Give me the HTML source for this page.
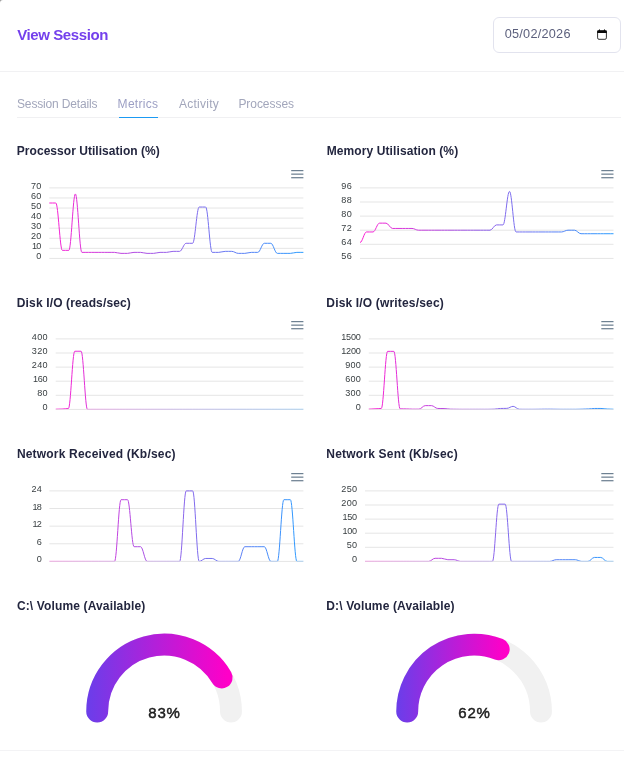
<!DOCTYPE html>
<html lang="en"><head><meta charset="utf-8"><title>View Session</title>
<style>
*{margin:0;padding:0;box-sizing:border-box}
html,body{width:624px;height:767px;overflow:hidden}
body{background:#9a9a9a;font-family:"Liberation Sans",sans-serif;position:relative}
#card{position:absolute;left:0;top:0;width:624px;height:767px;background:#fff;border-top-left-radius:3px}
#wrap{position:absolute;left:0;top:0;width:624px;height:767px;will-change:transform}
.abs{position:absolute;white-space:nowrap}
.h1{left:17.2px;top:25px;font-size:15px;font-weight:bold;color:#7440ec;line-height:20px;letter-spacing:-0.4px}
.hline{position:absolute;left:0;width:624px;height:1px;background:#f1f1f3}
.date{position:absolute;left:493px;top:17px;width:128px;height:35.5px;border:1px solid #e2e3ee;border-radius:6px;background:#fff}
.date span{position:absolute;left:10.7px;letter-spacing:0.25px;top:7.6px;font-size:12.7px;line-height:17px;color:#5b5f7c}
.tab{font-size:12px;line-height:16px;color:#a2a6bb;top:95.5px}
.tab.act{color:#9c9fc4}
.title{font-size:12px;font-weight:bold;color:#23263f;line-height:16px}
svg{position:absolute;left:0;top:0}
.yl{font-size:9.1px;fill:#3a4043;text-anchor:end;font-family:"Liberation Sans",sans-serif}
.gv{font-size:15px;letter-spacing:0.75px;fill:#1c1c1c;stroke:#1c1c1c;stroke-width:0.45px;text-anchor:middle;font-family:"Liberation Sans",sans-serif}
</style></head><body><div id="card"><div id="wrap">
<div class="abs h1">View Session</div>
<div class="date"><span>05/02/2026</span></div>
<div class="hline" style="top:71px"></div>
<div class="abs tab" style="left:17.0px;letter-spacing:-0.15px">Session Details</div>
<div class="abs tab act" style="left:117.6px;letter-spacing:0.3px">Metrics</div>
<div class="abs tab" style="left:178.9px;letter-spacing:0.27px">Activity</div>
<div class="abs tab" style="left:238.4px;letter-spacing:-0.05px">Processes</div>
<div class="hline" style="top:117px;left:17px;width:604px;background:#f0f0f2"></div>
<div class="abs" style="left:119px;top:116.75px;width:39px;height:1.35px;background:#1b9af3"></div>
<div class="abs title" style="left:16.8px;top:143.2px;letter-spacing:0.04px">Processor Utilisation (%)</div>
<div class="abs title" style="left:326.7px;top:143.2px;letter-spacing:0.1px">Memory Utilisation (%)</div>
<div class="abs title" style="left:16.8px;top:295.0px;letter-spacing:0.14px">Disk I/O (reads/sec)</div>
<div class="abs title" style="left:326.3px;top:295.0px;letter-spacing:0.17px">Disk I/O (writes/sec)</div>
<div class="abs title" style="left:16.9px;top:446.2px;letter-spacing:0.19px">Network Received (Kb/sec)</div>
<div class="abs title" style="left:326.3px;top:446.2px;letter-spacing:0.2px">Network Sent (Kb/sec)</div>
<div class="abs title" style="left:16.9px;top:598.0px;letter-spacing:0.14px">C:\ Volume (Available)</div>
<div class="abs title" style="left:326.3px;top:598.0px;letter-spacing:0.14px">D:\ Volume (Available)</div>
<div class="hline" style="top:750px;background:#f3f3f5"></div>
<svg width="624" height="767" viewBox="0 0 624 767">
<defs>
<linearGradient id="gc1" gradientUnits="userSpaceOnUse" x1="49.3" y1="0" x2="303.4" y2="0"><stop offset="0" stop-color="#fb1fd2"/><stop offset="0.5" stop-color="#8f62ea"/><stop offset="1" stop-color="#2a9cff"/></linearGradient>
<clipPath id="kc1"><rect x="48.3" y="185.9" width="256.09999999999997" height="72.43"/></clipPath>
<linearGradient id="gc2" gradientUnits="userSpaceOnUse" x1="360" y1="0" x2="613.5" y2="0"><stop offset="0" stop-color="#fb1fd2"/><stop offset="0.5" stop-color="#8f62ea"/><stop offset="1" stop-color="#2a9cff"/></linearGradient>
<clipPath id="kc2"><rect x="359" y="185.9" width="255.5" height="72.43"/></clipPath>
<linearGradient id="gc3" gradientUnits="userSpaceOnUse" x1="55.7" y1="0" x2="303.4" y2="0"><stop offset="0" stop-color="#fb1fd2"/><stop offset="0.5" stop-color="#8f62ea"/><stop offset="1" stop-color="#2a9cff"/></linearGradient>
<clipPath id="kc3"><rect x="54.7" y="336.9" width="249.7" height="72.43"/></clipPath>
<linearGradient id="gc4" gradientUnits="userSpaceOnUse" x1="368.75" y1="0" x2="613.5" y2="0"><stop offset="0" stop-color="#fb1fd2"/><stop offset="0.5" stop-color="#8f62ea"/><stop offset="1" stop-color="#2a9cff"/></linearGradient>
<clipPath id="kc4"><rect x="367.75" y="336.9" width="246.75" height="72.43"/></clipPath>
<linearGradient id="gc5" gradientUnits="userSpaceOnUse" x1="49.4" y1="0" x2="303.4" y2="0"><stop offset="0" stop-color="#fb1fd2"/><stop offset="0.5" stop-color="#8f62ea"/><stop offset="1" stop-color="#2a9cff"/></linearGradient>
<clipPath id="kc5"><rect x="48.4" y="488.9" width="255.99999999999997" height="72.43"/></clipPath>
<linearGradient id="gc6" gradientUnits="userSpaceOnUse" x1="365" y1="0" x2="613.5" y2="0"><stop offset="0" stop-color="#fb1fd2"/><stop offset="0.5" stop-color="#8f62ea"/><stop offset="1" stop-color="#2a9cff"/></linearGradient>
<clipPath id="kc6"><rect x="364" y="488.9" width="250.5" height="72.43"/></clipPath>
</defs>
<line x1="49.3" x2="303.4" y1="187.90" y2="187.90" stroke="#e5e5e5" stroke-width="1"/>
<text class="yl" x="41.54" y="188.90" letter-spacing="0.24">70</text>
<line x1="49.3" x2="303.4" y1="197.97" y2="197.97" stroke="#e5e5e5" stroke-width="1"/>
<text class="yl" x="41.54" y="198.97" letter-spacing="0.24">60</text>
<line x1="49.3" x2="303.4" y1="208.04" y2="208.04" stroke="#e5e5e5" stroke-width="1"/>
<text class="yl" x="41.54" y="209.04" letter-spacing="0.24">50</text>
<line x1="49.3" x2="303.4" y1="218.11" y2="218.11" stroke="#e5e5e5" stroke-width="1"/>
<text class="yl" x="41.54" y="219.11" letter-spacing="0.24">40</text>
<line x1="49.3" x2="303.4" y1="228.19" y2="228.19" stroke="#e5e5e5" stroke-width="1"/>
<text class="yl" x="41.54" y="229.19" letter-spacing="0.24">30</text>
<line x1="49.3" x2="303.4" y1="238.26" y2="238.26" stroke="#e5e5e5" stroke-width="1"/>
<text class="yl" x="41.54" y="239.26" letter-spacing="0.24">20</text>
<line x1="49.3" x2="303.4" y1="248.33" y2="248.33" stroke="#e5e5e5" stroke-width="1"/>
<text class="yl" x="40.59" y="249.33" letter-spacing="-0.71">10</text>
<line x1="49.3" x2="303.4" y1="258.40" y2="258.40" stroke="#e5e5e5" stroke-width="1"/>
<text class="yl" x="41.54" y="259.40" letter-spacing="0.24">0</text>
<path d="M49.30,203.01C51.71,203.01 53.40,203.01 55.82,203.01C58.23,203.01 59.92,250.34 62.33,250.34C64.74,250.34 66.43,250.34 68.85,250.34C71.26,250.34 72.95,193.94 75.36,193.94C77.77,193.94 79.46,252.36 81.88,252.36C84.29,252.36 85.98,252.36 88.39,252.36C90.81,252.36 92.49,252.36 94.91,252.36C97.32,252.36 99.01,252.36 101.42,252.36C103.84,252.36 105.53,252.36 107.94,252.36C110.35,252.36 112.04,252.36 114.45,252.36C116.87,252.36 118.56,253.36 120.97,253.36C123.38,253.36 125.07,253.36 127.48,253.36C129.90,253.36 131.59,252.36 134.00,252.36C136.41,252.36 138.10,252.36 140.52,252.36C142.93,252.36 144.62,253.36 147.03,253.36C149.44,253.36 151.13,253.36 153.55,253.36C155.96,253.36 157.65,252.36 160.06,252.36C162.47,252.36 164.16,252.36 166.58,252.36C168.99,252.36 170.68,251.35 173.09,251.35C175.51,251.35 177.19,251.35 179.61,251.35C182.02,251.35 183.71,243.29 186.12,243.29C188.54,243.29 190.23,243.29 192.64,243.29C195.05,243.29 196.74,207.04 199.15,207.04C201.57,207.04 203.26,207.04 205.67,207.04C208.08,207.04 209.77,252.36 212.18,252.36C214.60,252.36 216.29,252.36 218.70,252.36C221.11,252.36 222.80,251.35 225.22,251.35C227.63,251.35 229.32,251.35 231.73,251.35C234.14,251.35 235.83,253.36 238.25,253.36C240.66,253.36 242.35,253.36 244.76,253.36C247.17,253.36 248.86,252.36 251.28,252.36C253.69,252.36 255.38,252.36 257.79,252.36C260.21,252.36 261.89,243.29 264.31,243.29C266.72,243.29 268.41,243.29 270.82,243.29C273.24,243.29 274.93,253.36 277.34,253.36C279.75,253.36 281.44,253.36 283.85,253.36C286.27,253.36 287.96,253.36 290.37,253.36C292.78,253.36 294.47,252.36 296.88,252.36C299.30,252.36 300.99,252.36 303.40,252.36" fill="none" stroke="url(#gc1)" stroke-width="1" clip-path="url(#kc1)"/>
<line x1="291.2" x2="303.4" y1="170.60" y2="170.60" stroke="#6e8192" stroke-width="1.25"/>
<line x1="291.2" x2="303.4" y1="174.15" y2="174.15" stroke="#6e8192" stroke-width="1.25"/>
<line x1="291.2" x2="303.4" y1="177.70" y2="177.70" stroke="#6e8192" stroke-width="1.25"/>
<line x1="360" x2="613.5" y1="187.90" y2="187.90" stroke="#e5e5e5" stroke-width="1"/>
<text class="yl" x="351.94" y="188.90" letter-spacing="0.24">96</text>
<line x1="360" x2="613.5" y1="202.00" y2="202.00" stroke="#e5e5e5" stroke-width="1"/>
<text class="yl" x="351.94" y="203.00" letter-spacing="0.24">88</text>
<line x1="360" x2="613.5" y1="216.10" y2="216.10" stroke="#e5e5e5" stroke-width="1"/>
<text class="yl" x="351.94" y="217.10" letter-spacing="0.24">80</text>
<line x1="360" x2="613.5" y1="230.20" y2="230.20" stroke="#e5e5e5" stroke-width="1"/>
<text class="yl" x="351.94" y="231.20" letter-spacing="0.24">72</text>
<line x1="360" x2="613.5" y1="244.30" y2="244.30" stroke="#e5e5e5" stroke-width="1"/>
<text class="yl" x="351.94" y="245.30" letter-spacing="0.24">64</text>
<line x1="360" x2="613.5" y1="258.40" y2="258.40" stroke="#e5e5e5" stroke-width="1"/>
<text class="yl" x="351.94" y="259.40" letter-spacing="0.24">56</text>
<path d="M360.00,242.54C362.41,242.54 364.09,231.96 366.50,231.96C368.91,231.96 370.59,231.96 373.00,231.96C375.41,231.96 377.09,223.15 379.50,223.15C381.91,223.15 383.59,223.15 386.00,223.15C388.41,223.15 390.09,228.44 392.50,228.44C394.91,228.44 396.59,228.44 399.00,228.44C401.41,228.44 403.09,228.44 405.50,228.44C407.91,228.44 409.59,228.44 412.00,228.44C414.41,228.44 416.09,230.20 418.50,230.20C420.91,230.20 422.59,230.20 425.00,230.20C427.41,230.20 429.09,230.20 431.50,230.20C433.91,230.20 435.59,230.20 438.00,230.20C440.41,230.20 442.09,230.20 444.50,230.20C446.91,230.20 448.59,230.20 451.00,230.20C453.41,230.20 455.09,230.20 457.50,230.20C459.91,230.20 461.59,230.20 464.00,230.20C466.41,230.20 468.09,230.20 470.50,230.20C472.91,230.20 474.59,230.20 477.00,230.20C479.41,230.20 481.09,230.20 483.50,230.20C485.91,230.20 487.59,230.20 490.00,230.20C492.41,230.20 494.09,224.91 496.50,224.91C498.91,224.91 500.59,224.91 503.00,224.91C505.41,224.91 507.09,191.42 509.50,191.42C511.91,191.42 513.59,231.96 516.00,231.96C518.41,231.96 520.09,231.96 522.50,231.96C524.91,231.96 526.59,231.96 529.00,231.96C531.41,231.96 533.09,231.96 535.50,231.96C537.91,231.96 539.59,231.96 542.00,231.96C544.41,231.96 546.09,231.96 548.50,231.96C550.91,231.96 552.59,231.96 555.00,231.96C557.41,231.96 559.09,231.96 561.50,231.96C563.91,231.96 565.59,230.20 568.00,230.20C570.41,230.20 572.09,230.20 574.50,230.20C576.91,230.20 578.59,233.72 581.00,233.72C583.41,233.72 585.09,233.72 587.50,233.72C589.91,233.72 591.59,233.72 594.00,233.72C596.41,233.72 598.09,233.72 600.50,233.72C602.91,233.72 604.59,233.72 607.00,233.72C609.41,233.72 611.09,233.72 613.50,233.72" fill="none" stroke="url(#gc2)" stroke-width="1" clip-path="url(#kc2)"/>
<line x1="601.3" x2="613.5" y1="170.60" y2="170.60" stroke="#6e8192" stroke-width="1.25"/>
<line x1="601.3" x2="613.5" y1="174.15" y2="174.15" stroke="#6e8192" stroke-width="1.25"/>
<line x1="601.3" x2="613.5" y1="177.70" y2="177.70" stroke="#6e8192" stroke-width="1.25"/>
<line x1="55.7" x2="303.4" y1="338.90" y2="338.90" stroke="#e5e5e5" stroke-width="1"/>
<text class="yl" x="47.74" y="339.90" letter-spacing="0.24">400</text>
<line x1="55.7" x2="303.4" y1="353.00" y2="353.00" stroke="#e5e5e5" stroke-width="1"/>
<text class="yl" x="47.74" y="354.00" letter-spacing="0.24">320</text>
<line x1="55.7" x2="303.4" y1="367.10" y2="367.10" stroke="#e5e5e5" stroke-width="1"/>
<text class="yl" x="47.74" y="368.10" letter-spacing="0.24">240</text>
<line x1="55.7" x2="303.4" y1="381.20" y2="381.20" stroke="#e5e5e5" stroke-width="1"/>
<text class="yl" x="47.11" y="382.20" letter-spacing="-0.39">160</text>
<line x1="55.7" x2="303.4" y1="395.30" y2="395.30" stroke="#e5e5e5" stroke-width="1"/>
<text class="yl" x="47.74" y="396.30" letter-spacing="0.24">80</text>
<line x1="55.7" x2="303.4" y1="409.40" y2="409.40" stroke="#e5e5e5" stroke-width="1"/>
<text class="yl" x="47.74" y="410.40" letter-spacing="0.24">0</text>
<path d="M55.70,409.22C58.05,409.22 59.70,409.05 62.05,409.05C64.40,409.05 66.05,408.52 68.40,408.52C70.75,408.52 72.40,351.24 74.75,351.24C77.11,351.24 78.75,351.24 81.11,351.24C83.46,351.24 85.10,409.40 87.46,409.40C89.81,409.40 91.46,409.40 93.81,409.40C96.16,409.40 97.81,409.40 100.16,409.40C102.51,409.40 104.16,409.40 106.51,409.40C108.86,409.40 110.51,409.40 112.86,409.40C115.21,409.40 116.86,409.40 119.21,409.40C121.57,409.40 123.21,409.40 125.56,409.40C127.92,409.40 129.56,409.40 131.92,409.40C134.27,409.40 135.91,409.40 138.27,409.40C140.62,409.40 142.27,409.40 144.62,409.40C146.97,409.40 148.62,409.40 150.97,409.40C153.32,409.40 154.97,409.40 157.32,409.40C159.67,409.40 161.32,409.40 163.67,409.40C166.02,409.40 167.67,409.40 170.02,409.40C172.38,409.40 174.02,409.40 176.37,409.40C178.73,409.40 180.37,409.40 182.73,409.40C185.08,409.40 186.72,409.40 189.08,409.40C191.43,409.40 193.08,409.40 195.43,409.40C197.78,409.40 199.43,409.40 201.78,409.40C204.13,409.40 205.78,409.40 208.13,409.40C210.48,409.40 212.13,409.40 214.48,409.40C216.83,409.40 218.48,409.40 220.83,409.40C223.19,409.40 224.83,409.40 227.18,409.40C229.54,409.40 231.18,409.40 233.54,409.40C235.89,409.40 237.53,409.40 239.89,409.40C242.24,409.40 243.89,409.40 246.24,409.40C248.59,409.40 250.24,409.40 252.59,409.40C254.94,409.40 256.59,409.40 258.94,409.40C261.29,409.40 262.94,409.40 265.29,409.40C267.64,409.40 269.29,409.40 271.64,409.40C274.00,409.40 275.64,409.40 277.99,409.40C280.35,409.40 281.99,409.40 284.35,409.40C286.70,409.40 288.35,409.40 290.70,409.40C293.05,409.40 294.70,409.40 297.05,409.40C299.40,409.40 301.05,409.40 303.40,409.40" fill="none" stroke="url(#gc3)" stroke-width="1" clip-path="url(#kc3)"/>
<line x1="291.2" x2="303.4" y1="321.60" y2="321.60" stroke="#6e8192" stroke-width="1.25"/>
<line x1="291.2" x2="303.4" y1="325.15" y2="325.15" stroke="#6e8192" stroke-width="1.25"/>
<line x1="291.2" x2="303.4" y1="328.70" y2="328.70" stroke="#6e8192" stroke-width="1.25"/>
<line x1="368.75" x2="613.5" y1="338.90" y2="338.90" stroke="#e5e5e5" stroke-width="1"/>
<text class="yl" x="360.56" y="339.90" letter-spacing="-0.24">1500</text>
<line x1="368.75" x2="613.5" y1="353.00" y2="353.00" stroke="#e5e5e5" stroke-width="1"/>
<text class="yl" x="360.56" y="354.00" letter-spacing="-0.24">1200</text>
<line x1="368.75" x2="613.5" y1="367.10" y2="367.10" stroke="#e5e5e5" stroke-width="1"/>
<text class="yl" x="361.04" y="368.10" letter-spacing="0.24">900</text>
<line x1="368.75" x2="613.5" y1="381.20" y2="381.20" stroke="#e5e5e5" stroke-width="1"/>
<text class="yl" x="361.04" y="382.20" letter-spacing="0.24">600</text>
<line x1="368.75" x2="613.5" y1="395.30" y2="395.30" stroke="#e5e5e5" stroke-width="1"/>
<text class="yl" x="361.04" y="396.30" letter-spacing="0.24">300</text>
<line x1="368.75" x2="613.5" y1="409.40" y2="409.40" stroke="#e5e5e5" stroke-width="1"/>
<text class="yl" x="361.04" y="410.40" letter-spacing="0.24">0</text>
<path d="M368.75,409.16C371.07,409.16 372.70,408.84 375.03,408.84C377.35,408.84 378.98,408.46 381.30,408.46C383.63,408.46 385.25,351.35 387.58,351.35C389.90,351.35 391.53,351.35 393.85,351.35C396.18,351.35 397.80,408.84 400.13,408.84C402.45,408.84 404.08,408.93 406.40,408.93C408.73,408.93 410.36,409.16 412.68,409.16C415.00,409.16 416.63,409.16 418.96,409.16C421.28,409.16 422.91,405.64 425.23,405.64C427.56,405.64 429.18,405.64 431.51,405.64C433.83,405.64 435.46,408.46 437.78,408.46C440.11,408.46 441.73,408.55 444.06,408.55C446.38,408.55 448.01,409.16 450.33,409.16C452.66,409.16 454.28,409.26 456.61,409.26C458.93,409.26 460.56,409.31 462.88,409.31C465.21,409.31 466.84,409.31 469.16,409.31C471.48,409.31 473.11,409.31 475.44,409.31C477.76,409.31 479.39,409.31 481.71,409.31C484.04,409.31 485.66,409.31 487.99,409.31C490.31,409.31 491.94,409.16 494.26,409.16C496.59,409.16 498.21,408.46 500.54,408.46C502.86,408.46 504.49,408.37 506.81,408.37C509.14,408.37 510.77,406.34 513.09,406.34C515.41,406.34 517.04,409.26 519.37,409.26C521.69,409.26 523.32,409.31 525.64,409.31C527.97,409.31 529.59,409.31 531.92,409.31C534.24,409.31 535.87,409.26 538.19,409.26C540.52,409.26 542.14,409.16 544.47,409.16C546.79,409.16 548.42,409.16 550.74,409.16C553.07,409.16 554.69,409.26 557.02,409.26C559.34,409.26 560.97,409.31 563.29,409.31C565.62,409.31 567.25,409.31 569.57,409.31C571.89,409.31 573.52,409.31 575.85,409.31C578.17,409.31 579.80,409.16 582.12,409.16C584.45,409.16 586.07,408.93 588.40,408.93C590.72,408.93 592.35,408.46 594.67,408.46C597.00,408.46 598.62,408.46 600.95,408.46C603.27,408.46 604.90,409.02 607.22,409.02C609.55,409.02 611.18,409.26 613.50,409.26" fill="none" stroke="url(#gc4)" stroke-width="1" clip-path="url(#kc4)"/>
<line x1="601.3" x2="613.5" y1="321.60" y2="321.60" stroke="#6e8192" stroke-width="1.25"/>
<line x1="601.3" x2="613.5" y1="325.15" y2="325.15" stroke="#6e8192" stroke-width="1.25"/>
<line x1="601.3" x2="613.5" y1="328.70" y2="328.70" stroke="#6e8192" stroke-width="1.25"/>
<line x1="49.4" x2="303.4" y1="490.90" y2="490.90" stroke="#e5e5e5" stroke-width="1"/>
<text class="yl" x="42.14" y="491.90" letter-spacing="0.24">24</text>
<line x1="49.4" x2="303.4" y1="508.52" y2="508.52" stroke="#e5e5e5" stroke-width="1"/>
<text class="yl" x="41.19" y="509.52" letter-spacing="-0.71">18</text>
<line x1="49.4" x2="303.4" y1="526.15" y2="526.15" stroke="#e5e5e5" stroke-width="1"/>
<text class="yl" x="41.19" y="527.15" letter-spacing="-0.71">12</text>
<line x1="49.4" x2="303.4" y1="543.77" y2="543.77" stroke="#e5e5e5" stroke-width="1"/>
<text class="yl" x="42.14" y="544.77" letter-spacing="0.24">6</text>
<line x1="49.4" x2="303.4" y1="561.40" y2="561.40" stroke="#e5e5e5" stroke-width="1"/>
<text class="yl" x="42.14" y="562.40" letter-spacing="0.24">0</text>
<path d="M49.40,561.40C51.81,561.40 53.50,561.40 55.91,561.40C58.32,561.40 60.01,561.40 62.43,561.40C64.84,561.40 66.53,561.40 68.94,561.40C71.35,561.40 73.04,561.40 75.45,561.40C77.86,561.40 79.55,561.40 81.96,561.40C84.38,561.40 86.06,561.40 88.48,561.40C90.89,561.40 92.58,561.40 94.99,561.40C97.40,561.40 99.09,561.40 101.50,561.40C103.91,561.40 105.60,561.40 108.02,561.40C110.43,561.40 112.12,561.40 114.53,561.40C116.94,561.40 118.63,499.71 121.04,499.71C123.45,499.71 125.14,499.71 127.55,499.71C129.97,499.71 131.65,546.71 134.07,546.71C136.48,546.71 138.17,546.71 140.58,546.71C142.99,546.71 144.68,561.40 147.09,561.40C149.50,561.40 151.19,561.40 153.61,561.40C156.02,561.40 157.71,561.40 160.12,561.40C162.53,561.40 164.22,561.40 166.63,561.40C169.04,561.40 170.73,561.40 173.14,561.40C175.56,561.40 177.24,561.40 179.66,561.40C182.07,561.40 183.76,490.90 186.17,490.90C188.58,490.90 190.27,490.90 192.68,490.90C195.09,490.90 196.78,561.40 199.19,561.40C201.61,561.40 203.30,558.46 205.71,558.46C208.12,558.46 209.81,558.46 212.22,558.46C214.63,558.46 216.32,561.40 218.73,561.40C221.15,561.40 222.83,561.40 225.25,561.40C227.66,561.40 229.35,561.40 231.76,561.40C234.17,561.40 235.86,561.40 238.27,561.40C240.68,561.40 242.37,546.71 244.78,546.71C247.20,546.71 248.89,546.71 251.30,546.71C253.71,546.71 255.40,546.71 257.81,546.71C260.22,546.71 261.91,546.71 264.32,546.71C266.74,546.71 268.42,561.40 270.84,561.40C273.25,561.40 274.94,561.40 277.35,561.40C279.76,561.40 281.45,499.71 283.86,499.71C286.27,499.71 287.96,499.71 290.37,499.71C292.79,499.71 294.48,561.40 296.89,561.40C299.30,561.40 300.99,561.40 303.40,561.40" fill="none" stroke="url(#gc5)" stroke-width="1" clip-path="url(#kc5)"/>
<line x1="291.2" x2="303.4" y1="473.60" y2="473.60" stroke="#6e8192" stroke-width="1.25"/>
<line x1="291.2" x2="303.4" y1="477.15" y2="477.15" stroke="#6e8192" stroke-width="1.25"/>
<line x1="291.2" x2="303.4" y1="480.70" y2="480.70" stroke="#6e8192" stroke-width="1.25"/>
<line x1="365" x2="613.5" y1="490.90" y2="490.90" stroke="#e5e5e5" stroke-width="1"/>
<text class="yl" x="357.24" y="491.90" letter-spacing="0.24">250</text>
<line x1="365" x2="613.5" y1="505.00" y2="505.00" stroke="#e5e5e5" stroke-width="1"/>
<text class="yl" x="357.24" y="506.00" letter-spacing="0.24">200</text>
<line x1="365" x2="613.5" y1="519.10" y2="519.10" stroke="#e5e5e5" stroke-width="1"/>
<text class="yl" x="356.61" y="520.10" letter-spacing="-0.39">150</text>
<line x1="365" x2="613.5" y1="533.20" y2="533.20" stroke="#e5e5e5" stroke-width="1"/>
<text class="yl" x="356.61" y="534.20" letter-spacing="-0.39">100</text>
<line x1="365" x2="613.5" y1="547.30" y2="547.30" stroke="#e5e5e5" stroke-width="1"/>
<text class="yl" x="357.24" y="548.30" letter-spacing="0.24">50</text>
<line x1="365" x2="613.5" y1="561.40" y2="561.40" stroke="#e5e5e5" stroke-width="1"/>
<text class="yl" x="357.24" y="562.40" letter-spacing="0.24">0</text>
<path d="M365.00,561.40C367.36,561.40 369.01,561.40 371.37,561.40C373.73,561.40 375.38,561.40 377.74,561.40C380.10,561.40 381.76,561.40 384.12,561.40C386.48,561.40 388.13,561.40 390.49,561.40C392.85,561.40 394.50,561.40 396.86,561.40C399.22,561.40 400.87,561.40 403.23,561.40C405.59,561.40 407.24,561.40 409.60,561.40C411.96,561.40 413.61,561.40 415.97,561.40C418.33,561.40 419.99,561.40 422.35,561.40C424.71,561.40 426.36,561.40 428.72,561.40C431.08,561.40 432.73,558.30 435.09,558.30C437.45,558.30 439.10,558.30 441.46,558.30C443.82,558.30 445.47,559.71 447.83,559.71C450.19,559.71 451.85,559.71 454.21,559.71C456.57,559.71 458.22,561.40 460.58,561.40C462.94,561.40 464.59,561.40 466.95,561.40C469.31,561.40 470.96,561.40 473.32,561.40C475.68,561.40 477.33,561.40 479.69,561.40C482.05,561.40 483.70,561.40 486.06,561.40C488.42,561.40 490.08,561.40 492.44,561.40C494.80,561.40 496.45,504.15 498.81,504.15C501.17,504.15 502.82,504.15 505.18,504.15C507.54,504.15 509.19,561.40 511.55,561.40C513.91,561.40 515.56,561.40 517.92,561.40C520.28,561.40 521.93,561.40 524.29,561.40C526.65,561.40 528.31,561.40 530.67,561.40C533.03,561.40 534.68,561.40 537.04,561.40C539.40,561.40 541.05,561.40 543.41,561.40C545.77,561.40 547.42,561.40 549.78,561.40C552.14,561.40 553.79,559.71 556.15,559.71C558.51,559.71 560.17,559.71 562.53,559.71C564.89,559.71 566.54,559.71 568.90,559.71C571.26,559.71 572.91,559.71 575.27,559.71C577.63,559.71 579.28,561.40 581.64,561.40C584.00,561.40 585.65,561.40 588.01,561.40C590.37,561.40 592.02,557.45 594.38,557.45C596.74,557.45 598.40,557.45 600.76,557.45C603.12,557.45 604.77,561.40 607.13,561.40C609.49,561.40 611.14,561.40 613.50,561.40" fill="none" stroke="url(#gc6)" stroke-width="1" clip-path="url(#kc6)"/>
<line x1="601.3" x2="613.5" y1="473.60" y2="473.60" stroke="#6e8192" stroke-width="1.25"/>
<line x1="601.3" x2="613.5" y1="477.15" y2="477.15" stroke="#6e8192" stroke-width="1.25"/>
<line x1="601.3" x2="613.5" y1="480.70" y2="480.70" stroke="#6e8192" stroke-width="1.25"/>
<path d="M97.20,711.50A66.9,66.9 0 0 1 231.00,711.50" fill="none" stroke="#f1f1f1" stroke-width="21.9" stroke-linecap="round"/>
<defs><linearGradient id="gg0" gradientUnits="userSpaceOnUse" x1="86.2" y1="0" x2="227.6" y2="0"><stop offset="0" stop-color="#6a3eea"/><stop offset="1" stop-color="#ff00c8"/></linearGradient></defs>
<path d="M97.20,711.50A66.9,66.9 0 0 1 221.68,677.45" fill="none" stroke="url(#gg0)" stroke-width="21.9" stroke-linecap="round"/>
<text class="gv" x="164.5" y="718.1">83%</text>
<path d="M407.20,711.50A66.9,66.9 0 0 1 541.00,711.50" fill="none" stroke="#f1f1f1" stroke-width="21.9" stroke-linecap="round"/>
<defs><linearGradient id="gg1" gradientUnits="userSpaceOnUse" x1="396.3" y1="0" x2="504.7" y2="0"><stop offset="0" stop-color="#6a3eea"/><stop offset="1" stop-color="#ff00c8"/></linearGradient></defs>
<path d="M407.20,711.50A66.9,66.9 0 0 1 498.73,649.30" fill="none" stroke="url(#gg1)" stroke-width="21.9" stroke-linecap="round"/>
<text class="gv" x="474.5" y="718.1">62%</text>
<rect x="597.6" y="31.2" width="8.8" height="8.1" rx="1.4" fill="none" stroke="#333" stroke-width="1"/><path d="M597.1,33V31.3Q597.1,30.3 598.1,30.3H598.7L599.4,29L600.1,30.3H603.7L604.4,29L605.1,30.3H605.9Q606.9,30.3 606.9,31.3V33Z" fill="#0a0a0a"/>
</svg>
</div></div></body></html>
